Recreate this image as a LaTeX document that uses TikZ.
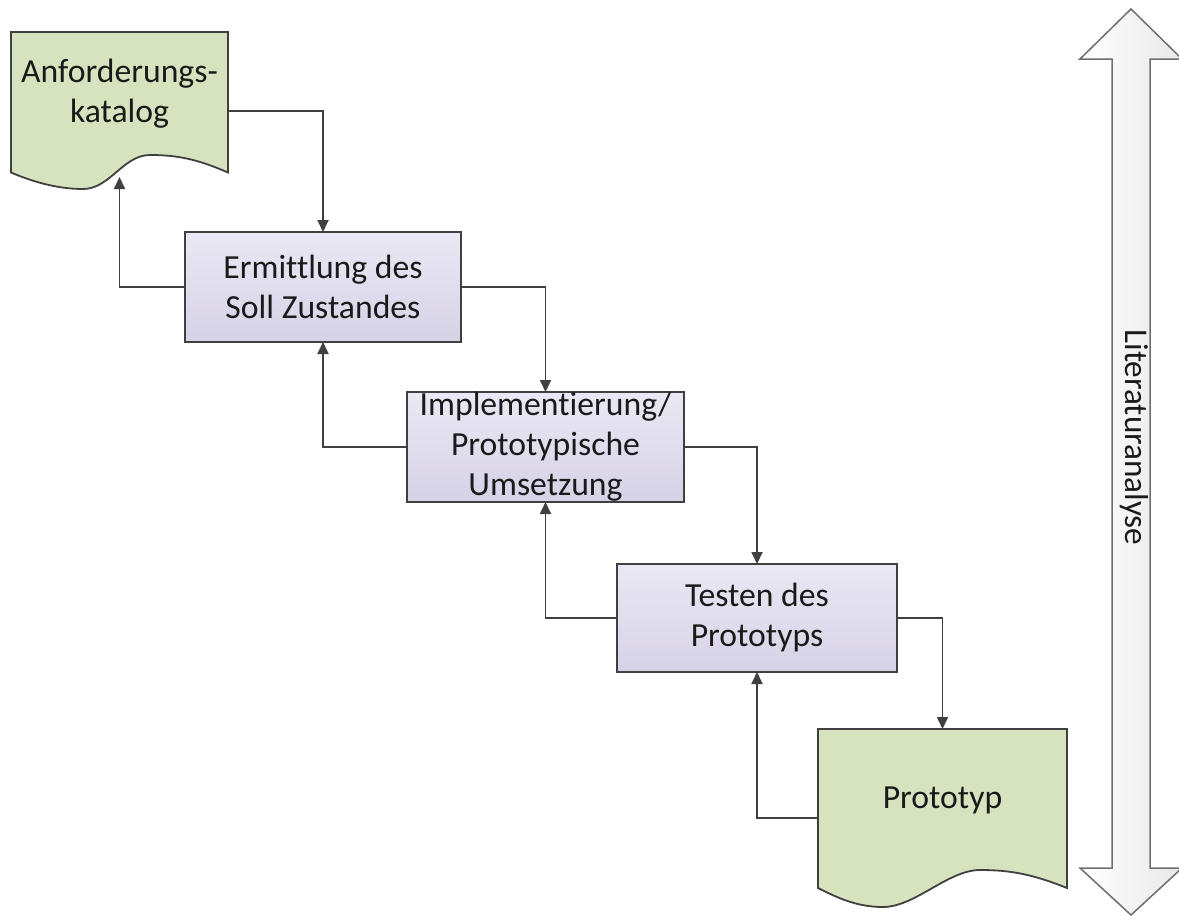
\documentclass[tikz,border=0pt]{standalone}
\usepackage{fontspec}
\setmainfont{Carlito}[Ligatures=NoCommon]
\usetikzlibrary{arrows.meta,calc}

\definecolor{docgreen}{RGB}{215,227,190}
\definecolor{boxtop}{RGB}{234,232,244}
\definecolor{boxbot}{RGB}{214,210,230}
\definecolor{edge}{RGB}{64,64,64}
\definecolor{bigedge}{RGB}{110,110,110}
\definecolor{ink}{RGB}{26,26,26}

\tikzset{
  stepbox/.style={rectangle, draw=edge, line width=1.8pt,
    top color=boxtop, bottom color=boxbot, inner sep=0pt, outer sep=0pt,
    text=ink, align=center,
    font=\fontsize{33.7}{40}\selectfont},
  docframe/.style={rectangle, inner sep=0pt, outer sep=0pt},
  docfill/.style={fill=docgreen, draw=edge, line width=1.8pt, line join=miter},
  doctext/.style={text=ink, align=center, inner sep=0pt,
    font=\fontsize{33.7}{40}\selectfont},
  conn/.style={draw=edge, line width=1.8pt,
    -{Triangle[length=12pt,width=11pt]}},
}

\begin{document}
\begin{tikzpicture}[x=1pt,y=-1pt]
\useasboundingbox (0,0) rectangle (1179,916);

% document shapes (frames used for connections)
\node[docframe, minimum width=217pt, minimum height=158pt] (anf) at (119.5,111) {};
\node[docframe, minimum width=249pt, minimum height=178pt] (prot) at (942.5,818) {};

% wavy-bottom document outlines
\path[docfill] (anf.north west) -- (anf.north east)
  -- ($(anf.north west)+(217,140.5)$)
  .. controls ($(anf.north west)+(186,127)$) and ($(anf.north west)+(166,123)$)
  .. ($(anf.north west)+(139,123)$)
  .. controls ($(anf.north west)+(112,123)$) and ($(anf.north west)+(99,157)$)
  .. ($(anf.north west)+(72,157)$)
  .. controls ($(anf.north west)+(45,157)$) and ($(anf.north west)+(20,149)$)
  .. ($(anf.north west)+(0,140.5)$) -- cycle;
\path[docfill] (prot.north west) -- (prot.north east)
  -- ($(prot.north west)+(249,159)$)
  .. controls ($(prot.north west)+(214,145)$) and ($(prot.north west)+(192,141)$)
  .. ($(prot.north west)+(162,141)$)
  .. controls ($(prot.north west)+(130,141)$) and ($(prot.north west)+(97,178)$)
  .. ($(prot.north west)+(65,178)$)
  .. controls ($(prot.north west)+(38,178)$) and ($(prot.north west)+(18,168)$)
  .. ($(prot.north west)+(0,159)$) -- cycle;

\node[doctext] (anftext) at ($(anf.north)+(0,62)$) {Anforderungs-\\katalog};
\node[doctext] (prottext) at ($(prot.north)+(0,71)$) {Prototyp};

% process steps
\node[stepbox, minimum width=276pt, minimum height=110pt] (erm) at (323,287)
  {Ermittlung des\\Soll Zustandes};
\node[stepbox, minimum width=277pt, minimum height=110pt] (imp) at (545.5,447)
  {Implementierung/\\Prototypische\\Umsetzung};
\node[stepbox, minimum width=280pt, minimum height=108pt] (tst) at (757,618)
  {Testen des\\Prototyps};

% forward connectors
\draw[conn] (anf.east) -| (erm.north);
\draw[conn] (erm.east) -| (imp.north);
\draw[conn] (imp.east) -| (tst.north);
\draw[conn] (tst.east) -| (prot.north);

% feedback connectors
\coordinate (anfin) at ($(anf.north)+(0,145)$);
\draw[conn] (erm.west) -| (anfin);
\draw[conn] (imp.west) -| (erm.south);
\draw[conn] (tst.west) -| (imp.south);
\draw[conn] (prot.west) -| (tst.south);

% double arrow along the whole process
\path[draw=bigedge, line width=1.5pt, left color=white, right color=black!9, line join=miter]
  (1131,9) -- (1182,59) -- (1150,59) -- (1150,868) -- (1182,868)
  -- (1131,915) -- (1080,868) -- (1112,868) -- (1112,59) -- (1080,59) -- cycle;
\node[rotate=-90, anchor=base, text=ink, inner sep=0pt,
  font=\fontsize{33.2}{40}\selectfont] (lit) at (1125,437.5) {Literaturanalyse};
\end{tikzpicture}
\end{document}
